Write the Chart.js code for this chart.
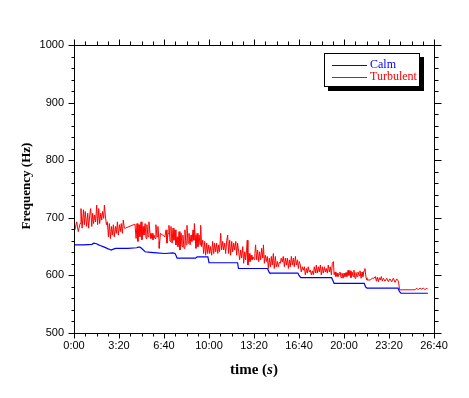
<!DOCTYPE html>
<html>
<head>
<meta charset="utf-8">
<script src="https://cdn.jsdelivr.net/npm/chart.js@4.4.1/dist/chart.umd.min.js"></script>
<style>
  body { margin: 0; background: #fff; }
  #wrap { width: 469px; height: 398px; }
</style>
</head>
<body>
<div id="wrap"><canvas id="chart" width="469" height="398"></canvas></div>
<script>
// axis ranges (seconds / Hz)
const timeMin = 0, timeMax = 1600, timeStep = 200, timeMinor = 50;
const freqMin = 500, freqMax = 1000, freqStep = 100, freqMinor = 20;

// Calm series (blue)
const calmTime = [0, 40, 80, 88, 100, 110, 116, 135, 152, 160, 165, 178, 185, 240, 279, 285, 293, 300, 316, 340, 368, 404,
  440, 449, 454, 458, 500, 540, 547, 595, 600, 700, 727, 731, 860, 868, 871, 995, 1000, 1008, 1145, 1152, 1156,
  1290, 1296, 1302, 1440, 1446, 1453, 1573];
const calmHz = [653, 653, 654, 656, 655, 653, 652, 649, 646, 645, 644, 646, 647, 647, 648, 649, 649, 647, 641, 640, 639, 638,
  639, 638, 634, 630, 630, 630, 632, 632, 622, 622, 622, 612, 612, 605, 604, 604, 600, 596, 596, 590, 586,
  586, 580, 578, 578, 572, 569, 569];

// Turbulent series (red)
const turbTime = [4, 12, 19, 27, 31, 36, 42, 46, 50, 56, 61, 65, 70, 74, 79, 83, 87, 92, 96, 101, 105, 110, 114, 119,
  123, 127, 132, 135, 139, 144, 148, 153, 157, 162, 166, 170, 175, 179, 184, 188, 193, 197, 202, 206, 210, 215, 219,
  224, 228, 271, 276, 280, 284, 289, 293, 298, 302, 307, 311, 316, 320, 324, 329, 333, 338, 342, 347, 351, 356, 360,
  364, 369, 373, 378, 379, 384, 404,
  409, 413, 418, 422, 427, 431, 436, 440, 444, 449, 453, 458, 462, 467, 471, 476, 480, 484, 489, 493, 498, 502, 507,
  511, 516, 520, 524, 529, 533, 535, 538, 542, 547, 551, 556, 560, 563, 567, 572, 576, 581, 585, 590, 594, 599, 603,
  607, 612, 616, 621, 625, 630, 634, 639, 643, 647, 652, 656, 661, 665, 670, 674, 679, 683, 687, 692, 696, 701, 705,
  710, 714, 719, 723, 727, 732, 736, 741, 745, 750, 754, 759, 763, 767, 770, 773, 778, 782, 787, 791, 796, 800,
  804, 807, 812, 816, 821, 825, 830, 834, 839, 842, 846, 850, 855, 859, 864, 868, 873, 877, 881, 886, 890, 895, 899,
  904, 908, 913, 917, 921, 926, 930, 935, 939, 944, 948, 953, 957, 961, 966, 970, 975, 979, 984, 988, 993, 997, 1001,
  1006, 1010, 1015, 1019, 1024, 1028, 1033, 1037, 1041, 1046, 1050, 1055, 1059, 1064, 1068, 1073, 1077, 1081, 1086,
  1090, 1095, 1099, 1104, 1108, 1113, 1117, 1121, 1126, 1130, 1135, 1139, 1144, 1148, 1153, 1156, 1160, 1164, 1169,
  1173, 1178, 1182, 1187, 1191, 1196, 1200, 1204,
  1209, 1213, 1218, 1222, 1227, 1231, 1236, 1240, 1244, 1249, 1253, 1258, 1262, 1267, 1271, 1276, 1280, 1284, 1289,
  1293, 1298, 1302, 1316, 1326, 1333, 1339, 1344, 1348, 1353, 1357, 1361, 1366, 1370, 1375, 1382, 1390, 1397, 1404,
  1412, 1419, 1427, 1434, 1442, 1444, 1447, 1516, 1523, 1530, 1538, 1545, 1553, 1560, 1567, 1572];
const turbHz = [679, 693, 676, 690, 716, 682, 714, 688, 711, 685, 708, 682, 705, 716, 685, 708, 690, 705, 693, 722, 688,
  716, 690, 708, 696, 711, 699, 722, 705, 688, 693, 667, 690, 664, 685, 670, 688, 667, 685, 673, 693, 670, 688, 676,
  690, 673, 696, 682, 682, 689, 664, 690, 659, 688, 667, 693, 662, 685, 670, 690, 664, 688, 667, 693, 673, 664, 673,
  662, 670, 664, 688, 667, 685, 659, 647, 673, 667,
  679, 656, 673, 687, 659, 685, 656, 682, 661, 679, 653, 667, 650, 676, 644, 673, 650, 670, 647, 679, 653, 687, 656,
  673, 653, 670, 659, 679, 661, 690, 670, 647, 673, 650, 670, 653, 687, 650, 661, 638, 659, 635, 656, 638, 653, 638,
  650, 635, 659, 638, 656, 641, 656, 638, 653, 641, 673, 644, 659, 644, 656, 638, 661, 670, 638, 661, 635, 659, 641,
  656, 644, 659, 635, 656, 641, 627, 644, 630, 650, 621, 641, 627, 644, 661, 618, 638, 624, 635, 627, 632, 628,
  638, 653, 627, 644, 624, 641, 627, 647, 630, 653, 621, 635, 624, 633, 612, 630, 615, 633, 618, 638, 612, 633, 615,
  624, 615, 623, 621, 630, 623, 633, 615, 630, 618, 630, 612, 627, 615, 633, 618, 630, 615, 633, 618, 627, 612, 624,
  618, 606, 615, 609, 615, 601, 612, 604, 615, 606, 609, 601, 608, 601, 615, 604, 618, 604, 615,
  606, 618, 601, 615, 604, 615, 606, 612, 604, 618, 606, 615, 601, 621, 624, 601, 606, 598, 604,
  598, 602, 606, 596, 604, 595, 604, 598,
  605, 598, 609, 600, 608, 596, 606, 598, 609, 595, 605, 598, 606, 600, 608, 595, 606, 598, 608,
  612, 596, 592, 592, 595, 595, 598, 590, 597, 589, 596, 592, 598, 590, 595, 590, 595, 589, 594,
  589, 595, 588, 594, 590, 590, 575, 575, 578, 575, 578, 576, 578, 575, 578, 576];

const seriesNames = ['Calm', 'Turbulent'];
const seriesColors = ['#0000ff', '#ff0000'];

function fmtTime(v) {
  const m = Math.floor(v / 60);
  const s = v % 60;
  return m + ':' + (s < 10 ? '0' : '') + s;
}

// frame with outward ticks on all four sides
const frameTicks = {
  id: 'frameTicks',
  afterDatasetsDraw(chart) {
    const { ctx, chartArea: a, scales } = chart;
    const L = a.left + 0.5, R = a.right + 0.5, T = a.top + 0.5, B = a.bottom + 0.5;
    ctx.save();
    ctx.strokeStyle = '#000';
    ctx.lineWidth = 1;
    ctx.beginPath();
    ctx.rect(L, T, R - L, B - T);
    for (let v = freqMin; v <= freqMax; v += freqMinor) {
      const py = Math.round(scales.y.getPixelForValue(v)) + 0.5;
      const len = v % freqStep === 0 ? 6 : 3;
      ctx.moveTo(L - len, py); ctx.lineTo(L, py);
      ctx.moveTo(R, py); ctx.lineTo(R + len + 1, py);
    }
    for (let v = timeMin; v <= timeMax; v += timeMinor) {
      const px = Math.round(scales.x.getPixelForValue(v)) + 0.5;
      const len = v % timeStep === 0 ? 5 : 3;
      ctx.moveTo(px, B); ctx.lineTo(px, B + len);
      ctx.moveTo(px, T); ctx.lineTo(px, T - len - 1);
    }
    ctx.stroke();
    ctx.restore();
  }
};

const axisTitles = {
  id: 'axisTitles',
  afterDraw(chart) {
    const { ctx, chartArea: a } = chart;
    ctx.save();
    ctx.fillStyle = '#000';
    ctx.textBaseline = 'middle';
    // y title
    ctx.translate(27, (a.top + a.bottom) / 2 - 3);
    ctx.rotate(-Math.PI / 2);
    ctx.textAlign = 'center';
    ctx.font = 'bold 13px "Liberation Serif"';
    ctx.fillText('Frequency (Hz)', 0, 0);
    ctx.restore();

    // x title: "time (s)" with italic s
    ctx.save();
    ctx.fillStyle = '#000';
    ctx.textBaseline = 'middle';
    ctx.textAlign = 'left';
    const parts = [['time (', 'bold 15px "Liberation Serif"'], ['s', 'bold italic 15px "Liberation Serif"'], [')', 'bold 15px "Liberation Serif"']];
    let w = 0;
    parts.forEach(p => { ctx.font = p[1]; w += ctx.measureText(p[0]).width; });
    let x0 = (a.left + a.right) / 2 - w / 2;
    parts.forEach(p => { ctx.font = p[1]; ctx.fillText(p[0], x0, 370); x0 += ctx.measureText(p[0]).width; });
    ctx.restore();
  }
};

const boxLegend = {
  id: 'boxLegend',
  afterDraw(chart) {
    const ctx = chart.ctx;
    const bx = 324, by = 53, bw = 96, bh = 34;
    ctx.save();
    ctx.fillStyle = '#000';
    ctx.fillRect(bx + 4, by + 4, bw, bh);
    ctx.fillStyle = '#fff';
    ctx.fillRect(bx, by, bw, bh);
    ctx.strokeStyle = '#000';
    ctx.lineWidth = 1;
    ctx.strokeRect(bx + 0.5, by + 0.5, bw - 1, bh - 1);
    ctx.font = '12px "Liberation Serif"';
    ctx.textBaseline = 'alphabetic';
    chart.data.datasets.forEach((ds, i) => {
      const ly = 65.5 + i * 12;
      ctx.strokeStyle = ds.borderColor;
      ctx.beginPath();
      ctx.moveTo(332, ly);
      ctx.lineTo(367, ly);
      ctx.stroke();
      ctx.fillStyle = ds.borderColor;
      ctx.fillText(ds.label, 370, 67.5 + i * 12);
    });
    ctx.restore();
  }
};

Chart.defaults.font.family = '"Liberation Sans", Arial, sans-serif';
Chart.defaults.font.size = 11;
Chart.defaults.color = '#000';

new Chart(document.getElementById('chart'), {
  type: 'line',
  data: {
    datasets: [
      {
        label: seriesNames[0],
        data: calmTime.map((t, i) => ({ x: t, y: calmHz[i] })),
        borderColor: seriesColors[0],
        borderWidth: 1.2,
        pointRadius: 0,
        tension: 0
      },
      {
        label: seriesNames[1],
        data: turbTime.map((t, i) => ({ x: t, y: turbHz[i] })),
        borderColor: seriesColors[1],
        borderWidth: 1,
        pointRadius: 0,
        tension: 0
      }
    ]
  },
  options: {
    responsive: false,
    animation: false,
    devicePixelRatio: 1,
    layout: { padding: { top: 45, right: 35, left: 0, bottom: 0 } },
    plugins: { legend: { display: false }, tooltip: { enabled: false } },
    scales: {
      x: {
        type: 'linear',
        min: timeMin,
        max: timeMax,
        grid: { display: false, drawTicks: false },
        border: { display: false },
        ticks: { stepSize: timeStep, padding: 6, maxRotation: 0, callback: v => fmtTime(v) },
        afterFit: s => { s.height = 65; }
      },
      y: {
        min: freqMin,
        max: freqMax,
        grid: { display: false, drawTicks: false },
        border: { display: false },
        ticks: { stepSize: freqStep, padding: 10, callback: v => String(v) },
        afterFit: s => { s.width = 74; }
      }
    }
  },
  plugins: [frameTicks, axisTitles, boxLegend]
});
</script>
</body>
</html>
